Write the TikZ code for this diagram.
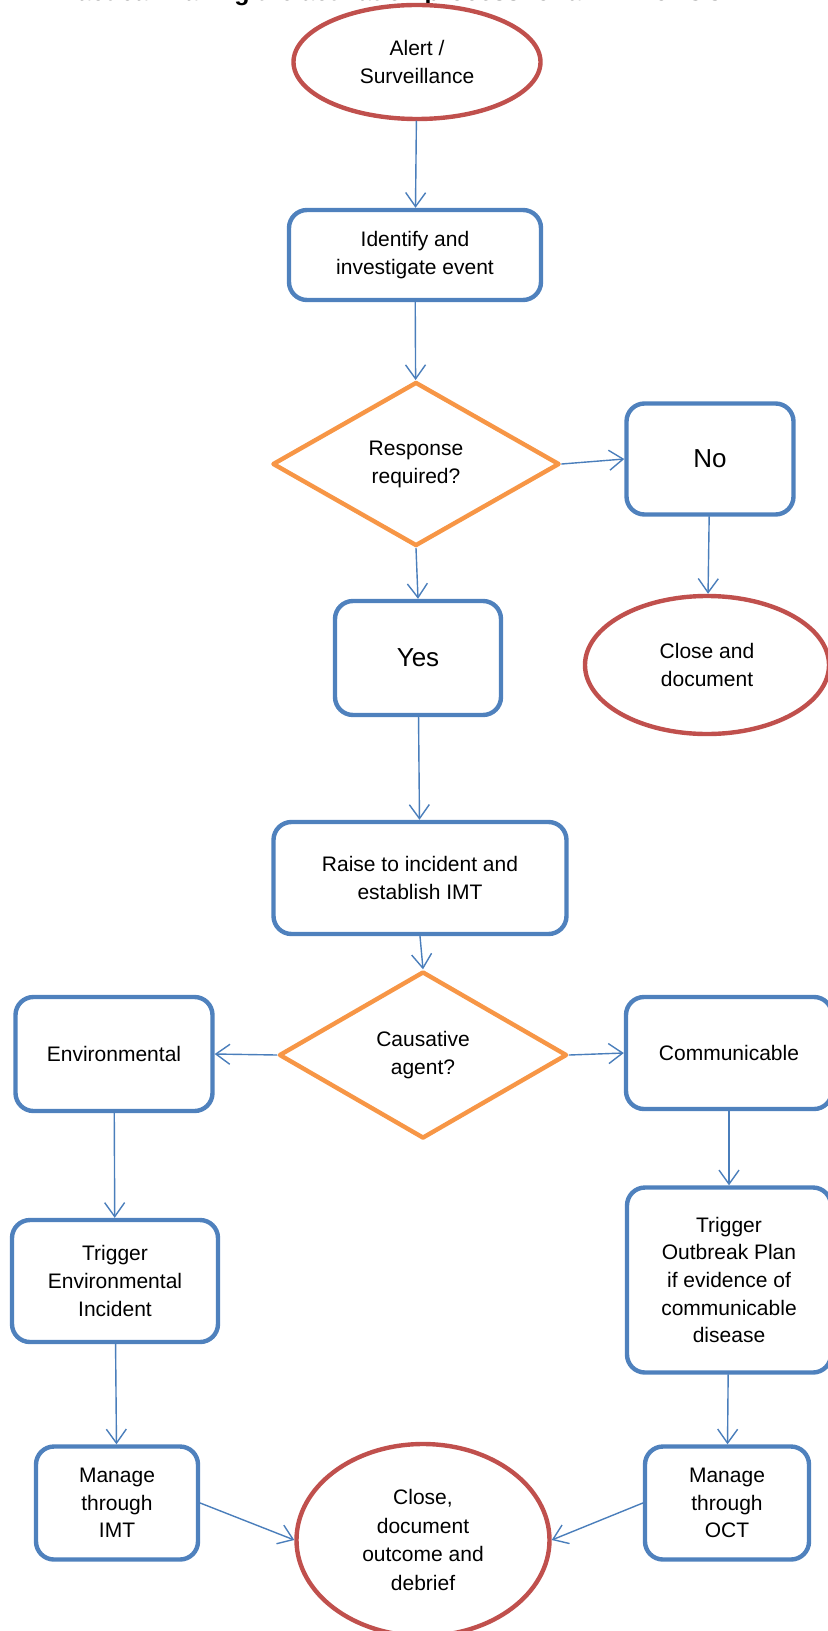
\documentclass[tikz,border=0pt]{standalone}
\usepackage{fontspec}
\setmainfont{Liberation Sans}
\usetikzlibrary{arrows.meta,shapes.geometric}
\definecolor{boxblue}{HTML}{4F81BD}
\definecolor{termred}{HTML}{C0504D}
\definecolor{decorange}{HTML}{F79646}
\definecolor{linkblue}{HTML}{4A7EBB}
\tikzset{
  every picture/.append style={line cap=round,line join=round},
  flow box/.style={draw=boxblue,line width=2.2pt,rounded corners=9pt,align=center,inner sep=0pt,font=\fontsize{10.5}{13.8}\selectfont},
  flow answer/.style={flow box,font=\fontsize{13}{16}\selectfont},
  flow term/.style={ellipse,draw=termred,line width=2.2pt,align=center,inner sep=0pt,font=\fontsize{10.5}{14.2}\selectfont},
  flow decision/.style={diamond,draw=decorange,line width=2.2pt,aspect=1.75,align=center,inner sep=0pt,font=\fontsize{10.5}{14}\selectfont},
  flow arrow/.style={linkblue,line width=0.7pt,-{Straight Barb[length=7pt,width=10pt]}},
  flow title/.style={anchor=base east,inner sep=0pt,font=\bfseries\fontsize{12.5}{15}\selectfont}
}

\begin{document}
\begin{tikzpicture}[x=0.5pt, y=-0.5pt]
  \clip (0,0) rectangle (828,1631);
  \node[flow title] (title) at (739,1) {Practical making the activation process for an IMT or OCT};

  % top of the chart
  \node[flow term, minimum width=123.5pt, minimum height=57pt] (alert) at (417,62) {Alert /\\Surveillance};
  \node[flow box, minimum width=126pt, minimum height=45pt] (identify) at (415,255) {Identify and\\investigate event};
  \node[flow decision, minimum width=143.5pt, minimum height=82pt] (response) at (416,464) {Response\\required?};
  \node[flow answer, minimum width=83.5pt, minimum height=55.5pt] (no) at (710,459) {No};
  \node[flow term, minimum width=122pt, minimum height=69pt] (closedoc) at (707,665) {Close and\\document};
  \node[flow answer, minimum width=83pt, minimum height=57pt] (yes) at (418,658) {Yes};
  \node[flow box, minimum width=146.5pt, minimum height=56pt] (raise) at (420,878) {Raise to incident and\\establish IMT};
  \node[flow decision, minimum width=144pt, minimum height=83.5pt] (cause) at (423,1055) {Causative\\agent?};

  % two branches
  \node[flow box, minimum width=98.5pt, minimum height=57pt] (env) at (114,1054) {Environmental};
  \node[flow box, minimum width=103pt, minimum height=56pt] (comm) at (729,1053) {Communicable};
  \node[flow box, minimum width=103pt, minimum height=61pt] (trigenv) at (115,1281) {Trigger\\Environmental\\Incident};
  \node[flow box, minimum width=102pt, minimum height=92.5pt] (trigob) at (729,1280) {Trigger\\Outbreak Plan\\if evidence of\\communicable\\disease};
  \node[flow box, minimum width=81pt, minimum height=56.5pt] (imt) at (117,1503) {Manage\\through\\IMT};
  \node[flow box, minimum width=82pt, minimum height=56.5pt] (oct) at (727,1503) {Manage\\through\\OCT};
  \node[flow term, minimum width=126.5pt, minimum height=96pt] (final) at (423,1540) {Close,\\document\\outcome and\\debrief};

  \draw[flow arrow] (alert) -- (identify);
  \draw[flow arrow] (identify) -- (response);
  \draw[flow arrow] (response.east) -- (no.west);
  \draw[flow arrow] (no) -- (closedoc);
  \draw[flow arrow] (response.south) -- (yes.north);
  \draw[flow arrow] (yes) -- (raise);
  \draw[flow arrow] (raise.south) -- (cause.north);
  \draw[flow arrow] (cause.west) -- (env.east);
  \draw[flow arrow] (cause.east) -- (comm.west);
  \draw[flow arrow] (env) -- (trigenv);
  \draw[flow arrow] (comm) -- (trigob);
  \draw[flow arrow] (trigenv) -- (imt);
  \draw[flow arrow] (trigob) -- (oct);
  \draw[flow arrow] (imt.east) -- (final.west);
  \draw[flow arrow] (oct.west) -- (final.east);
\end{tikzpicture}
\end{document}
